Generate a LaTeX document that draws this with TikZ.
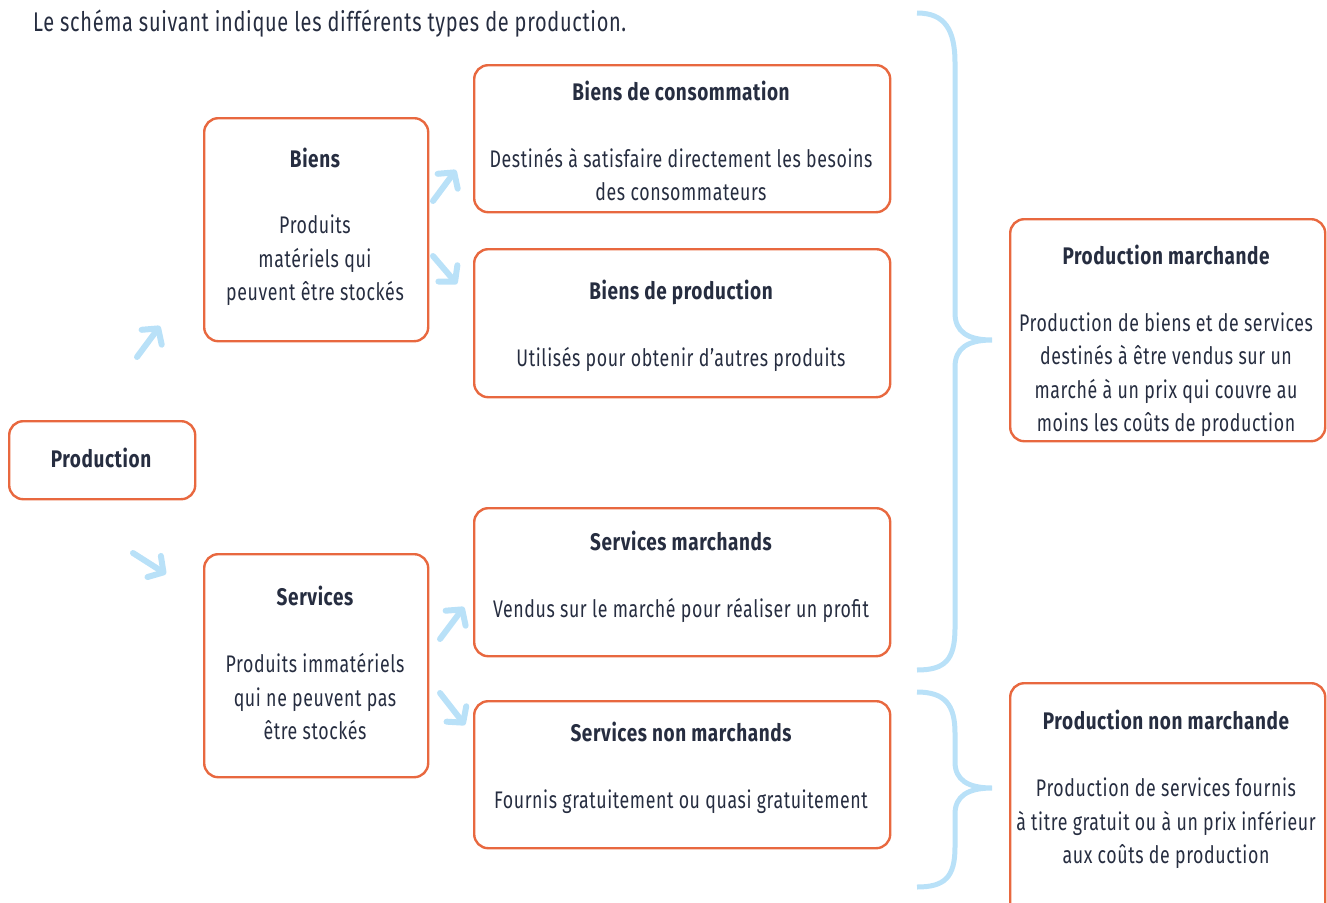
\documentclass[tikz,border=0pt]{standalone}
\usepackage{fontspec}
\setmainfont{Fira Sans}[FakeStretch=0.74, LetterSpace=2.5, BoldFeatures={FakeStretch=0.79}]
\usetikzlibrary{arrows.meta}
\definecolor{orng}{HTML}{E8683F}
\definecolor{sky}{HTML}{B9E1F8}
\definecolor{ink}{HTML}{262D40}
\tikzset{
  box/.style={draw=orng, line width=2.4pt, rounded corners=14pt, anchor=north west, inner sep=0pt},
  ln/.style={anchor=base, inner sep=0pt, text=ink, font=\fontsize{24}{24}\selectfont},
  ttl/.style={anchor=base, inner sep=0pt, text=ink, font=\fontsize{24}{24}\selectfont\bfseries},
  arr/.style={draw=sky, line width=6pt, line cap=round, -{Straight Barb[round, length=11pt, width=25pt]}},
  brace/.style={draw=sky, line width=5pt},
}
\begin{document}
\begin{tikzpicture}[x=1pt, y=-1pt]
\useasboundingbox (0,0) rectangle (1327,902);
\clip (0,0) rectangle (1327,902);
% header
\node[ln, anchor=base west, font=\fontsize{27}{27}\selectfont] (head) at (33,31) {Le schéma suivant indique les différents types de production.};
% boxes
\node[box, minimum width=186pt, minimum height=78pt] (prod) at (8,420) {};
\node[box, minimum width=224pt, minimum height=223pt] (bi) at (203,117) {};
\node[box, minimum width=416pt, minimum height=147pt] (bc) at (473,64) {};
\node[box, minimum width=416pt, minimum height=148pt] (bp) at (473,248) {};
\node[box, minimum width=416pt, minimum height=148pt] (sm) at (473,507) {};
\node[box, minimum width=224pt, minimum height=223pt] (se) at (203,553) {};
\node[box, minimum width=416pt, minimum height=147pt] (snm) at (473,700) {};
\node[box, minimum width=315pt, minimum height=222pt] (pm) at (1009,218) {};
\node[box, minimum width=315pt, minimum height=240pt] (pnm) at (1009,682) {};
% texts
\node[ttl] (prod-t) at (101,467) {Production};
\node[ttl] (bi-t) at (315,167) {Biens};
\node[ln] (bi-1) at (315,233) {Produits};
\node[ln] (bi-2) at (315,267) {matériels qui};
\node[ln] (bi-3) at (315,300) {peuvent être stockés};
\node[ttl] (bc-t) at (681,100) {Biens de consommation};
\node[ln] (bc-1) at (681,167) {Destinés à satisfaire directement les besoins};
\node[ln] (bc-2) at (681,200) {des consommateurs};
\node[ttl] (bp-t) at (681,299) {Biens de production};
\node[ln] (bp-1) at (681,366) {Utilisés pour obtenir d’autres produits};
\node[ttl] (sm-t) at (681,550) {Services marchands};
\node[ln] (sm-1) at (681,617) {Vendus sur le marché pour réaliser un profit};
\node[ttl] (se-t) at (315,605) {Services};
\node[ln] (se-1) at (315,672) {Produits immatériels};
\node[ln] (se-2) at (315,706) {qui ne peuvent pas};
\node[ln] (se-3) at (315,739) {être stockés};
\node[ttl] (snm-t) at (681,741) {Services non marchands};
\node[ln] (snm-1) at (681,808) {Fournis gratuitement ou quasi gratuitement};
\node[ttl] (pm-t) at (1166,264) {Production marchande};
\node[ln] (pm-1) at (1166,331) {Production de biens et de services};
\node[ln] (pm-2) at (1166,364) {destinés à être vendus sur un};
\node[ln] (pm-3) at (1166,398) {marché à un prix qui couvre au};
\node[ln] (pm-4) at (1166,431) {moins les coûts de production};
\node[ttl] (pnm-t) at (1166,729) {Production non marchande};
\node[ln] (pnm-1) at (1166,796) {Production de services fournis};
\node[ln] (pnm-2) at (1166,830) {à titre gratuit ou à un prix inférieur};
\node[ln] (pnm-3) at (1166,863) {aux coûts de production};
% arrows
\coordinate (a1s) at (137,357); \coordinate (a1e) at (160,326);
\coordinate (a2s) at (133,553); \coordinate (a2e) at (166,574);
\coordinate (a3s) at (433,201); \coordinate (a3e) at (456,170);
\coordinate (a4s) at (433,256); \coordinate (a4e) at (457,284);
\coordinate (a5s) at (440,639); \coordinate (a5e) at (464,607);
\coordinate (a6s) at (440,693); \coordinate (a6e) at (465,725);
\draw[arr] (a1s) -- (a1e);
\draw[arr] (a2s) -- (a2e);
\draw[arr] (a3s) -- (a3e);
\draw[arr] (a4s) -- (a4e);
\draw[arr] (a5s) -- (a5e);
\draw[arr] (a6s) -- (a6e);
% braces
\coordinate (b1top) at (917,13); \coordinate (b1tip) at (992,340); \coordinate (b1bot) at (917,670);
\draw[brace] (b1top) .. controls (945,13) and (955,30) .. (955,63) -- (955,313)
  .. controls (955,332) and (968,340) .. (b1tip)
  .. controls (968,340) and (955,348) .. (955,367) -- (955,628)
  .. controls (955,660) and (945,670) .. (b1bot);
\coordinate (b2top) at (917,692); \coordinate (b2tip) at (992,788); \coordinate (b2bot) at (917,887);
\draw[brace] (b2top) .. controls (945,692) and (955,705) .. (955,733) -- (955,762)
  .. controls (955,780) and (968,788) .. (b2tip)
  .. controls (968,788) and (955,796) .. (955,814) -- (955,847)
  .. controls (955,877) and (945,887) .. (b2bot);
\end{tikzpicture}
\end{document}
